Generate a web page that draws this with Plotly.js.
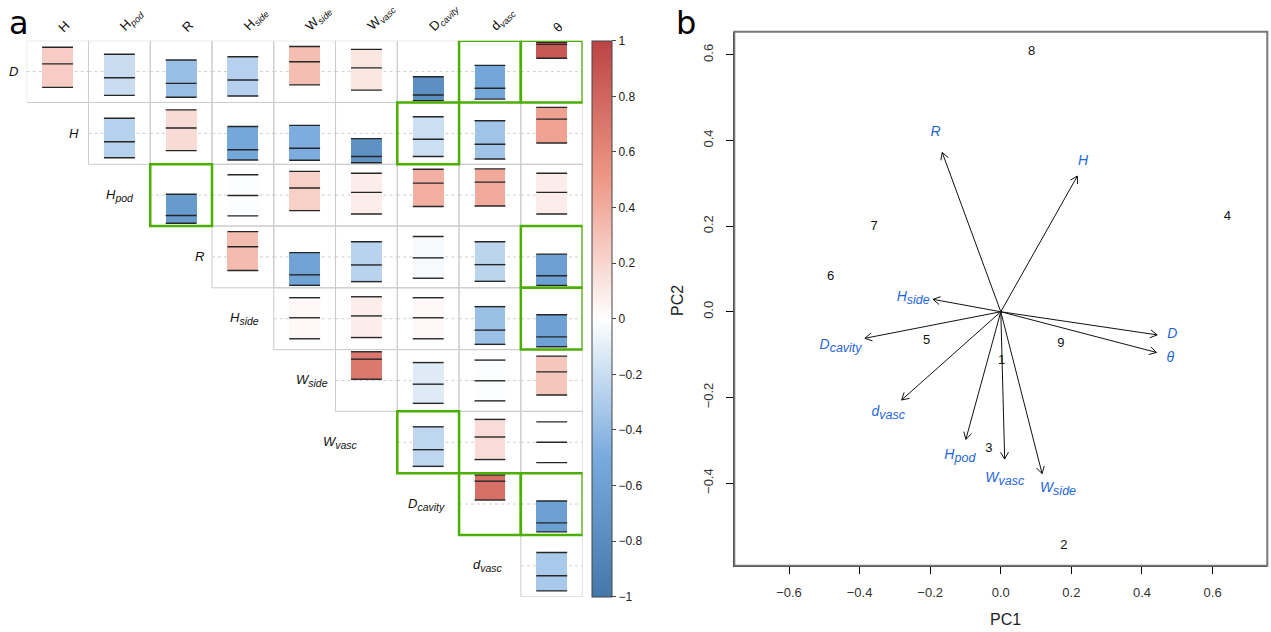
<!DOCTYPE html>
<html><head><meta charset="utf-8">
<script src="https://cdn.plot.ly/plotly-3.0.1.min.js"></script>
<style>html,body{margin:0;padding:0;background:#fff}</style>
</head><body><div id="chart" style="width:1271px;height:632px"></div>
<script>
// ---------------- DATA ----------------
// Panel a: correlation matrix (upper triangle), rows and columns
const rowVars = ['D','H','Hpod','R','Hside','Wside','Wvasc','Dcavity','dvasc'];
const colVars = ['H','Hpod','R','Hside','Wside','Wvasc','Dcavity','dvasc','θ'];
// estimate / lower CI / upper CI, row by row (columns from the diagonal onward)
const corrEst = [
  [0.25,-0.20,-0.38,-0.27,0.32,0.12,-0.76,-0.54,0.88],
  [-0.27,0.175,-0.53,-0.48,-0.75,-0.19,-0.35,0.46],
  [-0.66,-0.01,0.23,0.09,0.39,0.42,0.09],
  [0.33,-0.58,-0.26,-0.03,-0.25,-0.61],
  [0.03,0.09,0.03,-0.37,-0.59],
  [0.69,-0.12,-0.01,0.28],
  [-0.24,0.17,0.0],
  [0.74,-0.61],
  [-0.32]
];
const corrLow = [
  [-0.51,-0.77,-0.83,-0.79,-0.43,-0.60,-0.94,-0.89,0.43],
  [-0.79,-0.56,-0.86,-0.87,-0.95,-0.75,-0.83,-0.31],
  [-0.91,-0.67,-0.50,-0.61,-0.37,-0.35,-0.61],
  [-0.44,-0.92,-0.80,-0.69,-0.79,-0.92],
  [-0.65,-0.61,-0.65,-0.83,-0.91],
  [0.04,-0.74,-0.66,-0.47],
  [-0.78,-0.56,-0.66],
  [0.13,-0.90],
  [-0.81]
];
const corrUp = [
  [0.79,0.56,0.375,0.48,0.81,0.72,-0.165,0.20,0.95],
  [0.49,0.76,0.22,0.26,-0.17,0.54,0.41,0.84],
  [0.03,0.66,0.77,0.71,0.84,0.85,0.71],
  [0.82,0.14,0.49,0.66,0.49,0.09],
  [0.68,0.71,0.68,0.39,0.13],
  [0.93,0.58,0.66,0.79],
  [0.50,0.74,0.66],
  [0.94,0.10],
  [0.43]
];
// highlighted (green framed) cells: row index, column index
const sigRow = [0,0,1,2,3,4,6,7,7];
const sigCol = [7,8,6,2,8,8,6,7,8];
const colorbarTicks = [1,0.8,0.6,0.4,0.2,0,-0.2,-0.4,-0.6,-0.8,-1];
const colorbarTickText = ['1','0.8','0.6','0.4','0.2','0','\u22120.2','\u22120.4','\u22120.6','\u22120.8','\u22121'];

// Panel b: PCA biplot
const scoreLabels = ['1','2','3','4','5','6','7','8','9'];
const scorePC1 = [0.002,0.179,-0.034,0.642,-0.210,-0.482,-0.359,0.087,0.170];
const scorePC2 = [-0.114,-0.547,-0.319,0.222,-0.068,0.082,0.199,0.607,-0.074];
const loadVars = ['D','H','R','Hside','Wside','Wvasc','Dcavity','dvasc','Hpod','θ'];
const loadPC1 = [0.443,0.217,-0.166,-0.192,0.117,0.011,-0.385,-0.281,-0.099,0.441];
const loadPC2 = [-0.054,0.317,0.372,0.029,-0.378,-0.344,-0.062,-0.206,-0.298,-0.095];
const loadLabelPC1 = [0.486,0.233,-0.185,-0.248,0.162,0.011,-0.454,-0.319,-0.116,0.480];
const loadLabelPC2 = [-0.054,0.350,0.418,0.034,-0.413,-0.389,-0.078,-0.235,-0.335,-0.109];
const pcTicks = [-0.6,-0.4,-0.2,0,0.2,0.4,0.6];
const pcTickText = ['\u22120.6','\u22120.4','\u22120.2','0.0','0.2','0.4','0.6'];
const pc2Ticks = [-0.4,-0.2,0,0.2,0.4,0.6];
const pc2TickText = ['\u22120.4','\u22120.2','0.0','0.2','0.4','0.6'];

// ---------------- STYLE ----------------
const W = 1271, Hh = 632;
const FONT = 'Liberation Sans, Arial, sans-serif';
function subHTML(main, sub, px){ return sub ? main+'<sub><span style="font-size:'+px+'px">'+sub+'</span></sub>' : main; }
const varParts = {D:['D',''],H:['H',''],Hpod:['H','pod'],R:['R',''],Hside:['H','side'],Wside:['W','side'],
  Wvasc:['W','vasc'],Dcavity:['D','cavity'],dvasc:['d','vasc'],'θ':['θ','']};
const rowLabelGap = [7,7,14,6,13,6,37,12,16];
const cs = [[0,'#4477AA'],[0.25,'#77AADD'],[0.5,'#FFFFFF'],[0.75,'#EE9988'],[1,'#BB4444']];
// panel a geometry (pixels)
const A = {x0:26.7, x1:582.6, y0:40.7, y1:596.7};
// panel b geometry (pixels)
const B = {x0:734.3, x1:1267.3, y0:31.7, y1:565.7, xr:[-0.755,0.755], yr:[-0.593,0.654]};

// ---------------- BUILD panel a ----------------
const barX=[], barBase=[], barLen=[], barCol=[];
const lx=[], ly=[];
const shapes=[];
for (let i=0;i<rowVars.length;i++){
  for (let k=0;k<corrEst[i].length;k++){
    const j=i+k, xc=j+0.5, yc=-i-0.5;
    const e=corrEst[i][k], lo=corrLow[i][k], up=corrUp[i][k];
    barX.push(xc); barBase.push(yc+0.5*lo); barLen.push(0.5*(up-lo)); barCol.push(e);
    [lo,e,up].forEach(v=>{ lx.push(xc-0.25,xc+0.25,null); ly.push(yc+0.5*v,yc+0.5*v,null); });
    shapes.push({type:'rect',xref:'x',yref:'y',x0:j,x1:j+1,y0:-i-1,y1:-i,layer:'below',
      line:{color:'#cccccc',width:1},fillcolor:'rgba(0,0,0,0)'});
    shapes.push({type:'line',xref:'x',yref:'y',x0:j,x1:j+1,y0:yc,y1:yc,layer:'below',
      line:{color:'#cfcfcf',width:1,dash:'dot'}});
  }
}
for (let s=0;s<sigRow.length;s++){
  const i=sigRow[s], j=sigCol[s];
  shapes.push({type:'rect',xref:'x',yref:'y',x0:j,x1:j+1,y0:-i-1,y1:-i,layer:'above',
    line:{color:'#4caf00',width:2.5},fillcolor:'rgba(0,0,0,0)'});
}
// biplot frame (top/right grey)
shapes.push({type:'rect',xref:'x2 domain',yref:'y2 domain',x0:0,x1:1,y0:0,y1:1,layer:'above',
  line:{color:'#777',width:2},fillcolor:'rgba(0,0,0,0)'});

const traces=[];
traces.push({type:'bar',x:barX,y:barLen,base:barBase,width:0.5,xaxis:'x',yaxis:'y',hoverinfo:'skip',
  marker:{color:barCol,colorscale:cs,cmin:-1,cmax:1,line:{width:0},showscale:true,
    colorbar:{x:592.3/W,xanchor:'left',xpad:0,y:1-318.7/Hh,yanchor:'middle',ypad:0,
      len:556,lenmode:'pixels',thickness:20,thicknessmode:'pixels',
      outlinewidth:1,outlinecolor:'#444',ticks:'outside',ticklen:4,tickcolor:'#444',
      tickvals:colorbarTicks,ticktext:colorbarTickText,tickfont:{size:12,color:'#222',family:FONT}}},
  showlegend:false});
traces.push({type:'scatter',mode:'lines',x:lx,y:ly,xaxis:'x',yaxis:'y',hoverinfo:'skip',
  line:{color:'#262626',width:1.4},showlegend:false});

// ---------------- BUILD panel b ----------------
const sx=(B.x1-B.x0)/(B.xr[1]-B.xr[0]), sy=(B.y1-B.y0)/(B.yr[1]-B.yr[0]);
const ax=[], ay=[];
const L=8, ha=Math.PI/6;
for (let k=0;k<loadVars.length;k++){
  const x=loadPC1[k], y=loadPC2[k];
  ax.push(0,x,null); ay.push(0,y,null);
  const ang=Math.atan2(y*sy,x*sx);
  const h1=ang+Math.PI+ha, h2=ang+Math.PI-ha;
  ax.push(x+L*Math.cos(h1)/sx, x, x+L*Math.cos(h2)/sx, null);
  ay.push(y+L*Math.sin(h1)/sy, y, y+L*Math.sin(h2)/sy, null);
}
traces.push({type:'scatter',mode:'lines',x:ax,y:ay,xaxis:'x2',yaxis:'y2',hoverinfo:'skip',
  line:{color:'#111',width:1},showlegend:false});
traces.push({type:'scatter',mode:'text',x:scorePC1,y:scorePC2,text:scoreLabels,xaxis:'x2',yaxis:'y2',
  textposition:'middle center',textfont:{size:13,color:'#111',family:FONT},cliponaxis:false,
  hoverinfo:'skip',showlegend:false});
traces.push({type:'scatter',mode:'text',x:loadLabelPC1,y:loadLabelPC2,
  text:loadVars.map(v=>'<i>'+subHTML(varParts[v][0],varParts[v][1],12.5)+'</i>'),xaxis:'x2',yaxis:'y2',
  textposition:'middle center',textfont:{size:14,color:'#1f66dd',family:FONT},cliponaxis:false,
  hoverinfo:'skip',showlegend:false});

// ---------------- annotations ----------------
const ann=[];
colVars.forEach((v,j)=>{
  const p=varParts[v];
  ann.push({xref:'x',yref:'y',x:j+0.5,y:0,text:p[1]?p[0]+'<i><sub>'+p[1]+'</sub></i>':p[0],textangle:-45,xanchor:'left',yanchor:'bottom',
    xshift:-5,yshift:3,showarrow:false,font:{size:13,color:'#111',family:FONT}});
});
rowVars.forEach((v,i)=>{
  ann.push({xref:'x',yref:'y',x:i,y:-i-0.5,text:'<i>'+subHTML(varParts[v][0],varParts[v][1],10.5)+'</i>',xanchor:'right',yanchor:'middle',
    xshift:-rowLabelGap[i],showarrow:false,font:{size:13,color:'#111',family:FONT}});
});
ann.push({xref:'paper',yref:'paper',x:7/W,y:1-23/Hh,text:'a',xanchor:'left',yanchor:'middle',showarrow:false,
  font:{size:32,color:'#000',family:'DejaVu Sans'}});
ann.push({xref:'paper',yref:'paper',x:674/W,y:1-23/Hh,text:'b',xanchor:'left',yanchor:'middle',showarrow:false,
  font:{size:32,color:'#000',family:'DejaVu Sans'}});
ann.push({xref:'paper',yref:'paper',x:1005/W,y:1-619/Hh,text:'PC1',xanchor:'center',yanchor:'middle',showarrow:false,
  font:{size:16,color:'#222',family:FONT}});
ann.push({xref:'paper',yref:'paper',x:677/W,y:1-300/Hh,text:'PC2',textangle:-90,xanchor:'center',yanchor:'middle',showarrow:false,
  font:{size:16,color:'#222',family:FONT}});

const layout={
  width:W,height:Hh,margin:{l:0,r:0,t:0,b:0},paper_bgcolor:'#fff',plot_bgcolor:'rgba(0,0,0,0)',
  font:{family:FONT},showlegend:false,bargap:0,
  xaxis:{domain:[A.x0/W,A.x1/W],range:[0,9],visible:false,fixedrange:true},
  yaxis:{domain:[1-A.y1/Hh,1-A.y0/Hh],range:[-9,0],visible:false,fixedrange:true},
  xaxis2:{domain:[B.x0/W,B.x1/W],range:B.xr,anchor:'y2',showline:true,linecolor:'#000',linewidth:1,
    ticks:'outside',ticklen:7,tickcolor:'#000',tickvals:pcTicks,ticktext:pcTickText,
    tickfont:{size:13,color:'#333',family:FONT},showgrid:false,zeroline:false,ticklabelstandoff:8},
  yaxis2:{domain:[1-B.y1/Hh,1-B.y0/Hh],range:B.yr,anchor:'x2',showline:true,linecolor:'#000',linewidth:1,
    ticks:'outside',ticklen:7,tickcolor:'#000',tickvals:pc2Ticks,ticktext:pc2TickText,tickangle:-90,
    tickfont:{size:13,color:'#333',family:FONT},showgrid:false,zeroline:false,ticklabelstandoff:8},
  shapes:shapes,annotations:ann
};
Plotly.newPlot('chart',traces,layout,{displayModeBar:false,staticPlot:true});
</script></body></html>
